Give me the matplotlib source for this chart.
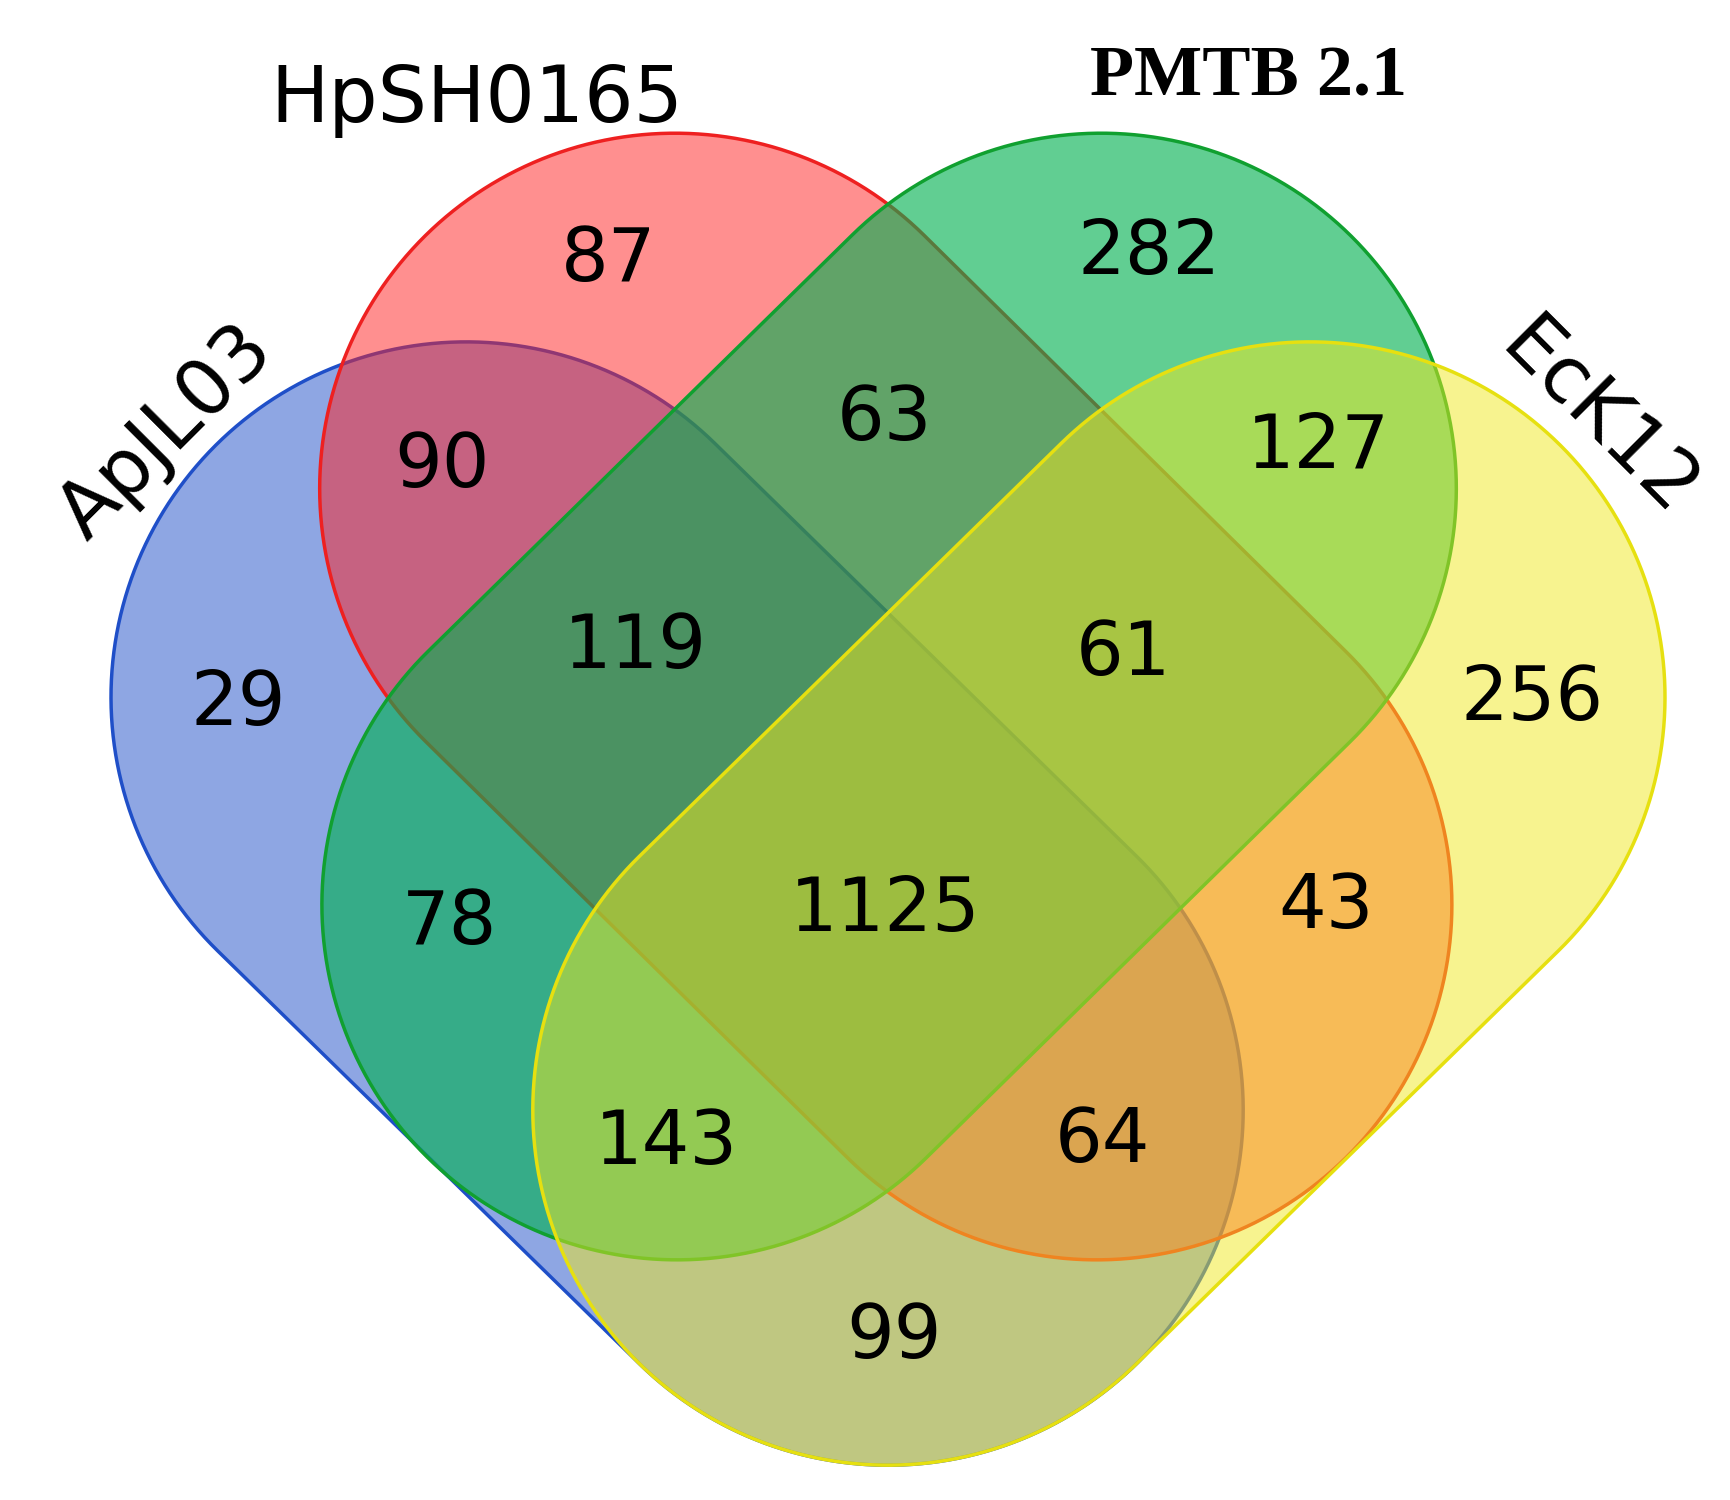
import numpy as np
import matplotlib.pyplot as plt
from matplotlib.patches import Polygon

# set names, label positions and the region counts
set_names = ["ApJL03", "HpSH0165", "PMTB 2.1", "EcK12"]
counts = [87, 282, 63, 127, 90, 29, 119, 61, 256, 78, 1125, 43, 143, 64, 99]
count_pos = [(548, 235), (1035, 228), (797, 378), (1188, 403), (398, 420),
             (215, 635), (572, 583), (1012, 590), (1380, 630), (405, 832),
             (797, 820), (1195, 818), (600, 1030), (993, 1028), (805, 1205)]

# stadium shapes: two end-cap centres and radius (image coords, y down)
shapes = {
    "ApJL03": ((420, 628), (800, 1000)),
    "EcK12": ((1180, 628), (800, 1000)),
    "HpSH0165": ((608, 440), (988, 815)),
    "PMTB 2.1": ((992, 440), (610, 815)),
}
radius = 320
fills = {"ApJL03": "#1f4fc8", "HpSH0165": "#ff2020", "PMTB 2.1": "#00b050", "EcK12": "#f0e820"}
alphas = {"ApJL03": 0.5, "HpSH0165": 0.5, "PMTB 2.1": 0.62, "EcK12": 0.5}
edges = {"ApJL03": "#1f4fc8", "HpSH0165": "#ee2020", "PMTB 2.1": "#10a030", "EcK12": "#e6e010"}


def stadium(c1, c2, r, n=120):
    c1 = np.array(c1, float)
    c2 = np.array(c2, float)
    d = c2 - c1
    th = np.arctan2(d[1], d[0])
    a1 = np.linspace(th + np.pi / 2, th + 3 * np.pi / 2, n)
    a2 = np.linspace(th - np.pi / 2, th + np.pi / 2, n)
    p1 = c1 + r * np.column_stack([np.cos(a1), np.sin(a1)])
    p2 = c2 + r * np.column_stack([np.cos(a2), np.sin(a2)])
    return np.vstack([p1, p2])


fig = plt.figure(figsize=(17.31, 15), dpi=100)
ax = fig.add_axes([0, 0, 1, 1])
ax.set_xlim(0, 1731 / 1.11)
ax.set_ylim(1500 / 1.11, 0)
ax.axis("off")

for name in ["ApJL03", "HpSH0165", "PMTB 2.1", "EcK12"]:
    c1, c2 = shapes[name]
    pts = stadium(c1, c2, radius)
    ax.add_patch(Polygon(pts, closed=True, facecolor=fills[name], alpha=alphas[name],
                         edgecolor="none"))
    ax.add_patch(Polygon(pts, closed=True, facecolor="none",
                         edgecolor=edges[name], lw=2.5))

for v, (x, y) in zip(counts, count_pos):
    ax.text(x, y, str(v), fontsize=54, ha="center", va="center", color="black")

ax.text(430, 90, set_names[1], fontsize=56, ha="center", va="center")
ax.text(1125, 70, set_names[2], fontsize=52, ha="center", va="center",
        family="Liberation Serif", weight="bold")
ax.text(150, 390, set_names[0], fontsize=56, ha="center", va="center", rotation=45)
ax.text(1440, 378, set_names[3], fontsize=56, ha="center", va="center", rotation=-45)

fig.savefig("out.png", dpi=100)
